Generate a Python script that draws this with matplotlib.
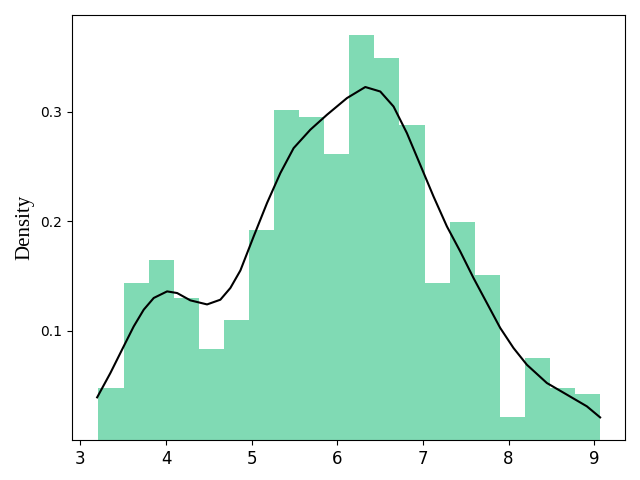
import numpy as np
import matplotlib
matplotlib.use("Agg")
import matplotlib.pyplot as plt

# histogram (density)
bin_edges = np.linspace(3.21, 9.07, 21)
heights = [0.048, 0.144, 0.165, 0.130, 0.083, 0.110, 0.192, 0.302, 0.295, 0.261,
           0.370, 0.349, 0.288, 0.144, 0.199, 0.151, 0.021, 0.075, 0.048, 0.042]

# kde curve
kde_x = [3.195, 3.350, 3.505, 3.622, 3.739, 3.856, 4.012, 4.129, 4.284, 4.479,
         4.634, 4.751, 4.868, 5.023, 5.179, 5.335, 5.490, 5.685, 5.880, 6.113,
         6.327, 6.502, 6.657, 6.813, 6.969, 7.124, 7.280, 7.436, 7.591, 7.747,
         7.903, 8.058, 8.214, 8.448, 8.681, 8.915, 9.070]
kde_y = [0.0391, 0.0614, 0.0857, 0.1039, 0.1192, 0.1299, 0.1359, 0.1344, 0.1277, 0.1240,
         0.1283, 0.1390, 0.1550, 0.1861, 0.2166, 0.2440, 0.2668, 0.2836, 0.2973, 0.3125,
         0.3226, 0.3185, 0.3048, 0.2805, 0.2515, 0.2226, 0.1953, 0.1724, 0.1481, 0.1253,
         0.1025, 0.0842, 0.0689, 0.0522, 0.0416, 0.0309, 0.0208]

fig, ax = plt.subplots(figsize=(6.4, 4.8), dpi=100)
fig.subplots_adjust(left=0.1125, right=0.977, top=0.969, bottom=0.083)

ax.hist(bin_edges[:-1], bins=bin_edges, weights=heights, color="#80dab4")
ax.plot(kde_x, kde_y, color="black", lw=1.5)

ax.set_yticks([0.1, 0.2, 0.3])
ax.tick_params(axis="x", labelsize=12)
ax.set_ylabel("Density", family="Liberation Serif", fontsize=15)

fig.savefig("out.png")
